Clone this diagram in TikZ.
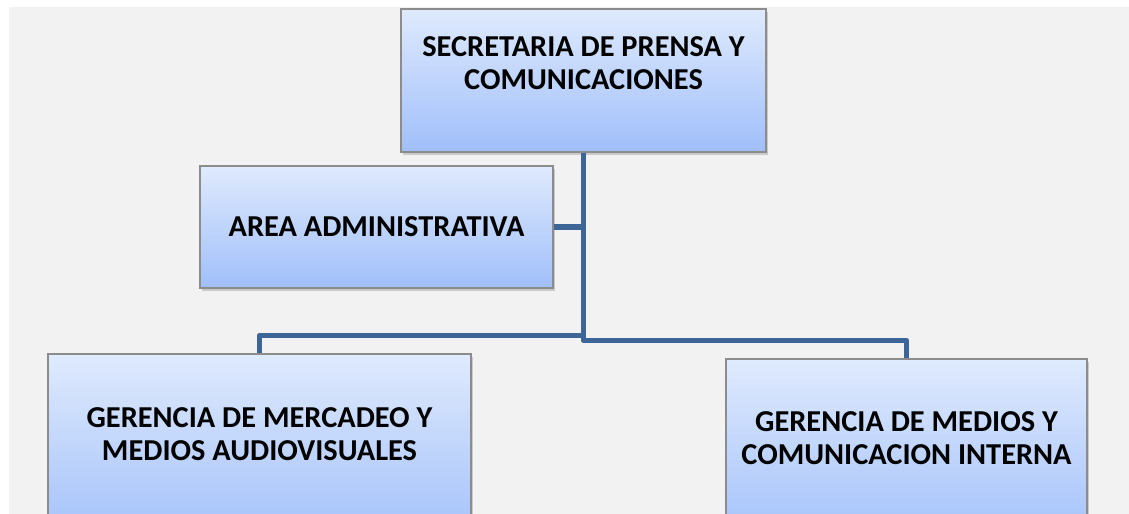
\documentclass[tikz,border=0pt]{standalone}
\usepackage{fontspec}
\setmainfont{Carlito}
\usepackage{tikz}
\usetikzlibrary{positioning, shadows}
\usepackage{xcolor}
\definecolor{bggray}{RGB}{242,242,242}
\definecolor{boxtop}{RGB}{223,234,253}
\definecolor{boxbot}{RGB}{160,191,250}
\definecolor{boxline}{RGB}{140,140,140}
\definecolor{linkblue}{RGB}{62,101,151}

\begin{document}
\begin{tikzpicture}[x=1bp,y=1bp,font=\fontsize{30.5}{33}\selectfont\bfseries]
  \tikzstyle{unit}=[rectangle, draw=boxline, line width=1.2bp,
    top color=boxtop, bottom color=boxbot,
    drop shadow={shadow xshift=2bp, shadow yshift=-3bp, opacity=.35},
    inner sep=0pt]
  \tikzstyle{caption}=[align=center, inner sep=0pt]
  \tikzstyle{link}=[draw=linkblue, line width=5.5bp, line join=round]

  \clip (0,0) rectangle (1129,514);
  \fill[white] (0,0) rectangle (1129,514);
  \fill[bggray] (9,0) rectangle (1129,507);

  \node[unit, minimum width=365bp, minimum height=143bp] (sec)   at (583.5,433.5)
    [label={[caption, yshift=17bp]center:SECRETARIA DE PRENSA Y\\COMUNICACIONES}] {};
  \node[unit, minimum width=353bp, minimum height=122bp] (admin) at (376.5,287)
    [label={[caption]center:AREA ADMINISTRATIVA}] {};
  \node[unit, minimum width=423bp, minimum height=195bp] (merc)  at (259.5,62.5)
    [label={[caption, yshift=17bp]center:GERENCIA DE MERCADEO Y\\MEDIOS AUDIOVISUALES}] {};
  \node[unit, minimum width=361bp, minimum height=192bp] (medios) at (906.5,59)
    [label={[caption, yshift=17bp]center:GERENCIA DE MEDIOS Y\\COMUNICACION INTERNA}] {};

  \path[link]
  (sec.south) -- ++(0,-188) -| (medios.north)
  (sec.south) ++(0,-183) -| (merc.north)
  (admin.east) -- (admin.east -| sec.south)
  ;
\end{tikzpicture}
\end{document}
